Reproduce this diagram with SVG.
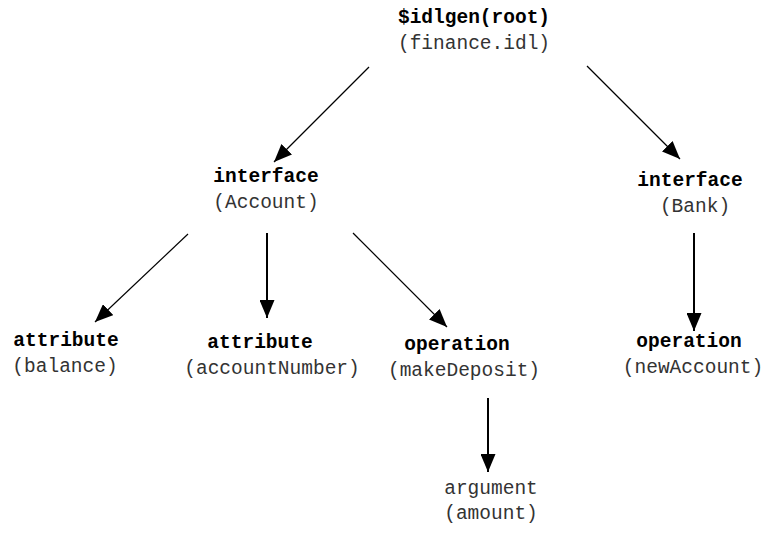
<svg xmlns="http://www.w3.org/2000/svg" width="762" height="545" viewBox="0 0 762 545">
<style>
text{font-family:"Liberation Mono","Courier New",monospace;font-size:19.5px;fill:#000;text-anchor:middle}
.b{font-weight:bold}
.n{fill:#333}
.thin{stroke:#000;stroke-width:1.2;fill:none}
.thick{stroke:#000;stroke-width:2;fill:none}
</style>
<defs>
<marker id="ah" viewBox="0 0 18 15" refX="18" refY="7.5" markerWidth="18" markerHeight="15" markerUnits="userSpaceOnUse" orient="auto">
<path d="M0,0 L18,7.5 L0,15 Z" fill="#000"/>
</marker>
</defs>
<g id="connectors">
<line class="thin" x1="369" y1="67" x2="274" y2="162" marker-end="url(#ah)"/>
<line class="thin" x1="587" y1="66" x2="680" y2="159" marker-end="url(#ah)"/>
<line class="thin" x1="188" y1="234" x2="95" y2="322" marker-end="url(#ah)"/>
<line class="thick" x1="267" y1="233" x2="267" y2="318" marker-end="url(#ah)"/>
<line class="thin" x1="353" y1="233" x2="447" y2="327" marker-end="url(#ah)"/>
<line class="thick" x1="694" y1="233" x2="694" y2="331" marker-end="url(#ah)"/>
<line class="thick" x1="488" y1="398" x2="488" y2="472" marker-end="url(#ah)"/>
</g>
<g id="root">
<text class="b" x="474" y="23">$idlgen(root)</text>
<text class="n" x="474" y="49">(finance.idl)</text>
</g>
<g id="account">
<text class="b" x="266" y="182">interface</text>
<text class="n" x="266" y="208">(Account)</text>
</g>
<g id="bank">
<text class="b" x="690" y="186">interface</text>
<text class="n" x="695" y="212">(Bank)</text>
</g>
<g id="balance">
<text class="b" x="66" y="346">attribute</text>
<text class="n" x="65" y="372">(balance)</text>
</g>
<g id="accountNumber">
<text class="b" x="260" y="348">attribute</text>
<text class="n" x="272" y="374">(accountNumber)</text>
</g>
<g id="makeDeposit">
<text class="b" x="457" y="350">operation</text>
<text class="n" x="464" y="376">(makeDeposit)</text>
</g>
<g id="newAccount">
<text class="b" x="689" y="347">operation</text>
<text class="n" x="693" y="373">(newAccount)</text>
</g>
<g id="amount">
<text class="n" x="491" y="494">argument</text>
<text class="n" x="491" y="519">(amount)</text>
</g>
</svg>
